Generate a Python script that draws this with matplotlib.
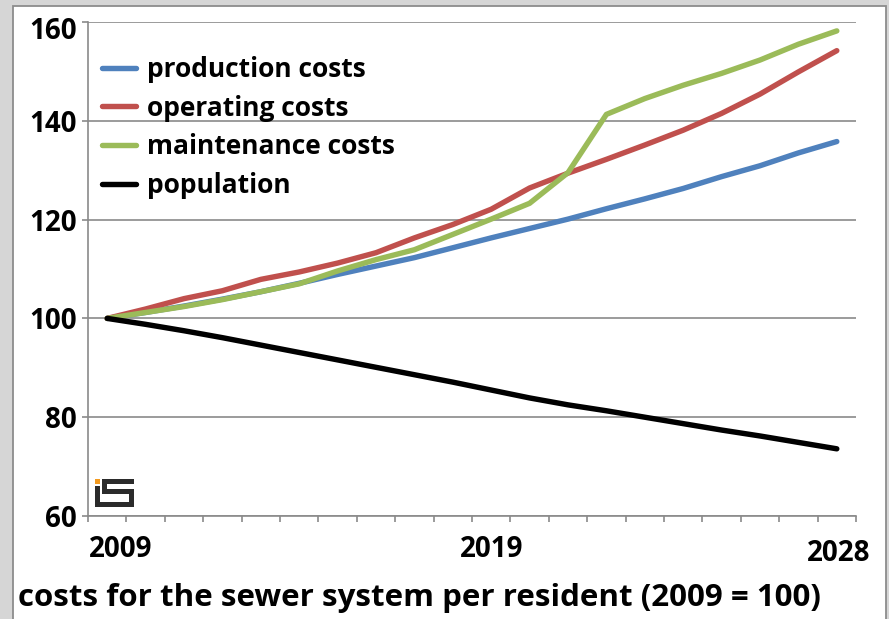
import matplotlib
matplotlib.use("Agg")
import matplotlib.pyplot as plt
from matplotlib.patches import Rectangle
from matplotlib.transforms import ScaledTranslation
import numpy as np

plt.rcParams["font.family"] = ["Open Sans", "DejaVu Sans"]
plt.rcParams["font.weight"] = "bold"
plt.rcParams["lines.solid_capstyle"] = "round"

# Index values per resident, 2009 = 100
years = list(range(2009, 2029))
production = [100.0, 101.2, 102.5, 103.9, 105.4, 107.1, 108.9, 110.6, 112.3, 114.3,
              116.3, 118.2, 120.1, 122.2, 124.2, 126.3, 128.7, 130.9, 133.5, 135.8]
operating = [100.0, 101.9, 104.0, 105.6, 107.9, 109.4, 111.2, 113.3, 116.3, 119.0,
             122.1, 126.4, 129.4, 132.2, 135.1, 138.1, 141.5, 145.4, 149.9, 154.2]
maintenance = [100.0, 101.2, 102.4, 103.8, 105.4, 107.0, 109.6, 111.9, 113.9, 117.0,
               120.1, 123.3, 129.5, 141.3, 144.5, 147.2, 149.6, 152.3, 155.5, 158.2]
population = [100.0, 98.8, 97.5, 96.1, 94.6, 93.1, 91.6, 90.1, 88.6, 87.1,
              85.5, 83.9, 82.5, 81.3, 80.0, 78.7, 77.4, 76.2, 74.9, 73.6]

series = [
    ("production costs", production, "#4f81bd"),
    ("operating costs", operating, "#c0504d"),
    ("maintenance costs", maintenance, "#9bbb59"),
    ("population", population, "#000000"),
]
shown_years = [2009, 2019, 2028]
yticks = [60, 80, 100, 120, 140, 160]

W, H = 889, 619
fig = plt.figure(figsize=(W / 100, H / 100), dpi=100)
fig.patch.set_facecolor("#d6d6d6")

# white card behind the chart
card = Rectangle((13 / W, -0.02), (886 - 13) / W, (H - 6) / H + 0.02,
                 transform=fig.transFigure, facecolor="white",
                 edgecolor="#8c8c8c", lw=1.3, zorder=-1)
fig.patches.append(card)

ax = fig.add_axes([88 / W, 1 - 516 / H, 768 / W, 494 / H], zorder=1)
ax.set_facecolor("none")

x = np.arange(len(years))
for name, vals, col in series:
    ax.plot(x, vals, color=col, lw=3.9, label=name, zorder=3)

ax.set_xlim(-0.5, len(years) - 0.5)
ax.set_ylim(60, 160)
ax.set_yticks(yticks)
ax.set_yticklabels([str(v) for v in yticks])
ax.yaxis.grid(True, color="#8a8a8a", lw=1.2)
ax.set_axisbelow(True)

ax.set_xticks([years.index(y) for y in shown_years])
ax.set_xticklabels([str(y) for y in shown_years])
ax.set_xticks(np.arange(-0.5, len(years)), minor=True)
ax.tick_params(axis="x", which="major", length=0, pad=14, labelsize=20)
ax.tick_params(axis="x", which="minor", length=4, width=1.2, color="#8a8a8a", direction="out")
ax.tick_params(axis="y", length=4, width=1.2, color="#8a8a8a", pad=4, labelsize=20)

for side in ["top", "right"]:
    ax.spines[side].set_visible(False)
for side in ["left", "bottom"]:
    ax.spines[side].set_color("#8a8a8a")
    ax.spines[side].set_linewidth(1.2)

# nudge end labels the way the spreadsheet lays them out
xl = ax.get_xticklabels()
xl[0].set_transform(xl[0].get_transform() + ScaledTranslation(13 / 100, 0, fig.dpi_scale_trans))
xl[2].set_transform(xl[2].get_transform() + ScaledTranslation(2 / 100, -4 / 100, fig.dpi_scale_trans))
yl = ax.get_yticklabels()
yl[-1].set_transform(yl[-1].get_transform() + ScaledTranslation(0, -6 / 100, fig.dpi_scale_trans))

leg = ax.legend(loc="upper left", bbox_to_anchor=(102 / W, 1 - 56 / H),
                bbox_transform=fig.transFigure, frameon=False,
                prop={"size": 19, "weight": "bold"}, handlelength=1.3,
                handletextpad=0.4, labelspacing=0.44, borderpad=0, borderaxespad=0)

fig.text(18 / W, 1 - 598 / H, "costs for the sewer system per resident (2009 = 100)",
         fontsize=22.5, fontweight="bold", va="center", ha="left")

# small "IS" logo in the lower left of the plot area
logo = "#2b2b2b"
for (x0, y0, w, h, c) in [
    (95, 479, 5, 5, "#f39a1e"),
    (95, 486, 5, 21, logo),
    (95, 502, 39, 5, logo),
    (102, 479, 32, 5, logo),
    (102, 479, 5, 15, logo),
    (102, 489, 32, 5, logo),
    (129, 489, 5, 18, logo),
]:
    fig.patches.append(Rectangle((x0 / W, 1 - (y0 + h) / H), w / W, h / H,
                                 transform=fig.transFigure, facecolor=c,
                                 edgecolor="none", zorder=5))

fig.savefig("out.png", dpi=100)
